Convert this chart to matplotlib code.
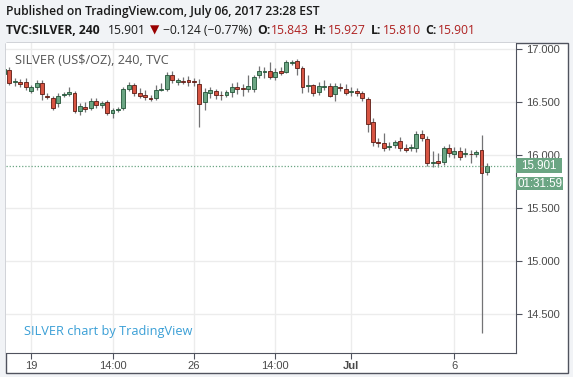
import numpy as np
import matplotlib
matplotlib.use("Agg")
import matplotlib.pyplot as plt
from matplotlib.patches import Rectangle
import matplotlib.transforms as mtransforms

# 240 min candles, TVC:SILVER, Jun 16 -> Jul 6 2017
opens = [16.764, 16.802, 16.688, 16.689, 16.689, 16.607, 16.639, 16.682, 16.560, 16.538,
         16.491, 16.568, 16.573, 16.582, 16.418, 16.456, 16.441, 16.507, 16.469, 16.500,
         16.399, 16.427, 16.446, 16.620, 16.660, 16.588, 16.566, 16.541, 16.535, 16.616,
         16.620, 16.752, 16.692, 16.701, 16.708, 16.698, 16.670, 16.497, 16.582, 16.607,
         16.570, 16.563, 16.592, 16.644, 16.635, 16.620, 16.620, 16.752, 16.788, 16.790,
         16.739, 16.790, 16.786, 16.872, 16.890, 16.818, 16.650, 16.658, 16.592, 16.640,
         16.648, 16.575, 16.644, 16.625, 16.594, 16.604, 16.582, 16.528, 16.309, 16.125,
         16.110, 16.078, 16.094, 16.129, 16.063, 16.063, 16.063, 16.198, 16.148, 15.922,
         15.943, 15.931, 16.063, 16.009, 16.038, 16.013, 16.013, 16.006, 16.044, 15.843]
highs = [16.830, 16.830, 16.726, 16.717, 16.726, 16.660, 16.708, 16.708, 16.585, 16.557,
         16.585, 16.594, 16.642, 16.604, 16.491, 16.500, 16.538, 16.538, 16.509, 16.519,
         16.443, 16.453, 16.642, 16.689, 16.679, 16.632, 16.613, 16.566, 16.660, 16.679,
         16.783, 16.792, 16.726, 16.736, 16.745, 16.726, 16.717, 16.632, 16.642, 16.623,
         16.604, 16.613, 16.679, 16.689, 16.670, 16.755, 16.755, 16.840, 16.830, 16.877,
         16.821, 16.830, 16.896, 16.896, 16.906, 16.840, 16.755, 16.670, 16.689, 16.708,
         16.679, 16.679, 16.679, 16.670, 16.642, 16.632, 16.604, 16.550, 16.349, 16.160,
         16.208, 16.123, 16.142, 16.170, 16.104, 16.104, 16.226, 16.236, 16.179, 16.038,
         16.019, 16.085, 16.104, 16.075, 16.075, 16.066, 16.047, 16.047, 16.189, 15.927]
lows = [16.745, 16.660, 16.651, 16.642, 16.613, 16.585, 16.613, 16.519, 16.528, 16.425,
        16.453, 16.547, 16.557, 16.396, 16.377, 16.406, 16.425, 16.443, 16.443, 16.377,
        16.349, 16.406, 16.425, 16.604, 16.557, 16.538, 16.519, 16.509, 16.519, 16.604,
        16.604, 16.679, 16.660, 16.670, 16.651, 16.651, 16.261, 16.425, 16.538, 16.528,
        16.519, 16.547, 16.547, 16.575, 16.557, 16.594, 16.594, 16.726, 16.726, 16.717,
        16.708, 16.755, 16.774, 16.849, 16.755, 16.585, 16.594, 16.557, 16.566, 16.613,
        16.547, 16.509, 16.604, 16.566, 16.557, 16.557, 16.509, 16.220, 16.085, 16.075,
        16.038, 16.047, 16.066, 16.038, 16.028, 16.038, 16.028, 16.132, 15.896, 15.887,
        15.887, 15.906, 15.981, 15.972, 15.953, 15.981, 15.925, 15.981, 14.320, 15.810]
closes = [16.811, 16.682, 16.695, 16.670, 16.642, 16.639, 16.676, 16.573, 16.552, 16.446,
          16.557, 16.575, 16.594, 16.415, 16.465, 16.431, 16.512, 16.469, 16.488, 16.393,
          16.425, 16.434, 16.620, 16.660, 16.582, 16.557, 16.544, 16.525, 16.613, 16.623,
          16.755, 16.708, 16.708, 16.689, 16.689, 16.690, 16.478, 16.592, 16.610, 16.563,
          16.563, 16.592, 16.644, 16.625, 16.620, 16.651, 16.733, 16.790, 16.795, 16.739,
          16.780, 16.776, 16.875, 16.878, 16.818, 16.644, 16.658, 16.582, 16.648, 16.646,
          16.559, 16.648, 16.629, 16.582, 16.601, 16.582, 16.535, 16.292, 16.120, 16.110,
          16.063, 16.088, 16.123, 16.063, 16.050, 16.070, 16.198, 16.158, 15.922, 15.934,
          15.922, 16.063, 16.016, 16.041, 15.978, 16.020, 16.006, 16.028, 15.827, 15.901]

tick_pos = [5, 20, 35, 50, 64, 83]
tick_labels = ["19", "14:00", "26", "14:00", "Jul", "6"]
price_ticks = [14.5, 15.0, 15.5, 16.0, 16.5, 17.0]

last = closes[-1]
countdown = "01:31:59"

W, H = 573, 377
UP, UP_EDGE = "#6ba583", "#225437"
DN, DN_EDGE = "#d75442", "#5b1a13"
WICK = "#737375"
AXIS_TXT = "#4a4a4a"
FRAME = "#50535e"
GRID = "#ececec"
VALRED = "#ae2020"


def fx(px):
    return px / W


def fy(py):
    return 1 - py / H


fig = plt.figure(figsize=(W / 100, H / 100), dpi=100, facecolor="#f1f3f6")

# white panel with border
fig.patches.append(Rectangle((fx(6), fy(373)), fx(568) - fx(6), fy(43) - fy(373),
                             transform=fig.transFigure, facecolor="white",
                             edgecolor=FRAME, lw=1.0, zorder=-1))

ax = fig.add_axes([fx(6), fy(353), fx(516) - fx(6), fy(43) - fy(353)])
ax.set_zorder(2)
ax.set_facecolor("white")

x = np.arange(len(opens))
o = np.array(opens)
c = np.array(closes)
hi = np.array(highs)
lo = np.array(lows)
up = c >= o

ax.vlines(x, lo, hi, color=WICK, lw=0.9, zorder=2)
body_h = np.maximum(np.abs(c - o), 0.008)
body_b = np.minimum(o, c)
ax.bar(x[up], body_h[up], bottom=body_b[up], width=0.72, color=UP,
       edgecolor=UP_EDGE, lw=0.6, zorder=3)
ax.bar(x[~up], body_h[~up], bottom=body_b[~up], width=0.72, color=DN,
       edgecolor=DN_EDGE, lw=0.6, zorder=3)

ax.axhline(last, color=UP, lw=0.9, ls=(0, (1, 1.5)), zorder=4)

ax.set_xlim(0.37, 94.35)
ax.set_ylim(14.132, 17.057)

ax.set_yticks(price_ticks)
ax.set_yticklabels(["%.3f" % v for v in price_ticks])
ax.yaxis.tick_right()
ax.set_xticks(tick_pos)
ax.set_xticklabels(tick_labels)
for lab in ax.get_xticklabels():
    if lab.get_text() == "Jul":
        lab.set_fontweight("bold")

ax.tick_params(axis="both", colors=FRAME, labelcolor=AXIS_TXT, labelsize=8,
               length=4, width=0.8)
ax.tick_params(axis="x", pad=2)
ax.tick_params(axis="y", pad=3)
for lab in ax.get_xticklabels() + ax.get_yticklabels():
    lab.set_family("Liberation Sans")

ax.grid(True, color=GRID, lw=1.0, zorder=0)
ax.set_axisbelow(True)
for s in ["top", "left"]:
    ax.spines[s].set_visible(False)
for s in ["right", "bottom"]:
    ax.spines[s].set_color(FRAME)
    ax.spines[s].set_linewidth(0.8)

# last price and countdown labels on the price scale
blend = mtransforms.blended_transform_factory(ax.transAxes, ax.transData)
px_per_unit = ax.get_position().height * H / (17.057 - 14.132)
bh = 14.5 / px_per_unit
bw = 46 / (ax.get_position().width * W)
ax.add_patch(Rectangle((1.0, last - bh / 2), bw, bh, transform=blend,
                       facecolor=UP, edgecolor="none", clip_on=False, zorder=6))
ax.text(1.0 + bw / 2, last, "%.3f" % last, transform=blend, ha="center",
        va="center", color="white", fontsize=8.4, family="Liberation Sans",
        clip_on=False, zorder=7)
cd_y = last - 18 / px_per_unit
ax.add_patch(Rectangle((1.0, cd_y - bh * 0.85 / 2), bw * 1.03, bh * 0.85, transform=blend,
                       facecolor=UP, edgecolor="none", clip_on=False, zorder=6))
ax.text(1.0 + bw * 1.03 / 2, cd_y, countdown, transform=blend, ha="center",
        va="center", color="white", fontsize=8.4, family="Liberation Sans",
        clip_on=False, zorder=7)

# text inside the chart
ax.text(0.018, 0.943, "SILVER (US$/OZ), 240, TVC", transform=ax.transAxes,
        color="#555555", fontsize=9.2, family="Open Sans", ha="left", va="center",
        zorder=5)
ax.text(0.035, 0.07, "SILVER chart by TradingView", transform=ax.transAxes,
        color="#3a9fd6", fontsize=9.2, family="Open Sans", ha="left", va="center",
        zorder=5)

# header
fig.text(fx(6), fy(12), "Published on TradingView.com, July 06, 2017 23:28 EST",
         fontsize=8.7, family="Open Sans", fontweight="semibold", color="#1a1a1a",
         va="center", ha="left")

runs = [
    ("TVC:SILVER, 240", "#1a1a1a", "bold", 0),
    ("15.901", "#1a1a1a", "normal", 8),
    ("\u25bc", "#990000", "normal", 4),
    ("\u22120.124 (\u22120.77%)", "#1a1a1a", "normal", 4),
    ("O:", "#1a1a1a", "bold", 5),
    ("%.3f" % opens[-1], VALRED, "normal", 1),
    ("H:", "#1a1a1a", "bold", 5),
    ("%.3f" % highs[-1], VALRED, "normal", 1),
    ("L:", "#1a1a1a", "bold", 5),
    ("%.3f" % lows[-1], VALRED, "normal", 1),
    ("C:", "#1a1a1a", "bold", 5),
    ("%.3f" % closes[-1], VALRED, "normal", 1),
]
renderer = fig.canvas.get_renderer()
xpos = 6
for s, col, wt, gap in runs:
    xpos += gap
    t = fig.text(fx(xpos), fy(30), s, fontsize=8.7, family=["Open Sans", "DejaVu Sans"],
                 fontweight=wt, color=col, va="center", ha="left")
    xpos += t.get_window_extent(renderer).width

fig.savefig("out.png", dpi=100, facecolor=fig.get_facecolor())
